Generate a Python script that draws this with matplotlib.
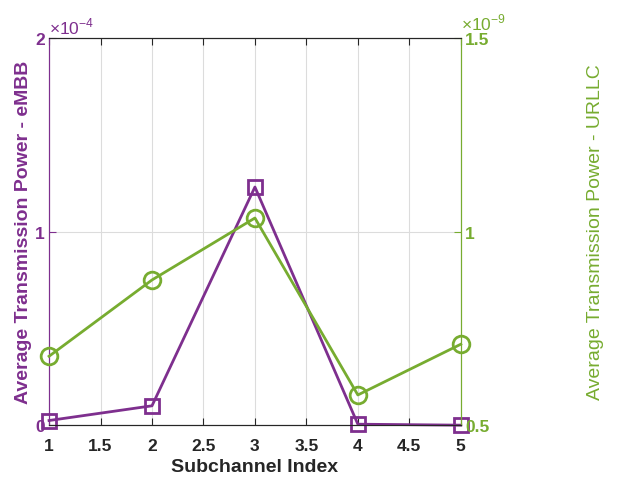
import matplotlib
matplotlib.use('Agg')
import matplotlib.pyplot as plt
from matplotlib.ticker import FuncFormatter

plt.rcParams['font.family'] = ['Liberation Sans', 'DejaVu Sans']
plt.rcParams['mathtext.fontset'] = 'custom'
plt.rcParams['mathtext.rm'] = 'Liberation Sans'

# data
subchannel = [1, 2, 3, 4, 5]
embb_power = [0.024e-4, 0.10e-4, 1.23e-4, 0.005e-4, 0.0]
urllc_power = [0.678e-9, 0.875e-9, 1.035e-9, 0.578e-9, 0.709e-9]

purple = '#7E2F8E'
green = '#77AC30'
dark = '#262626'

fig = plt.figure(figsize=(6.21, 4.81), dpi=100)
ax = fig.add_axes([0.079, 0.114, 0.663, 0.805])
ax2 = ax.twinx()

ax.plot(subchannel, embb_power, color=purple, lw=2, marker='s', ms=10,
        mfc='none', mec=purple, mew=2, zorder=3, clip_on=False)
ax2.plot(subchannel, urllc_power, color=green, lw=2, marker='o', ms=12,
         mfc='none', mec=green, mew=2, zorder=3, clip_on=False)

ax.set_xlim(1, 5)
ax.set_ylim(0, 2e-4)
ax2.set_ylim(0.5e-9, 1.5e-9)
ax.set_xticks([1, 1.5, 2, 2.5, 3, 3.5, 4, 4.5, 5])
ax.set_xticklabels(['1', '1.5', '2', '2.5', '3', '3.5', '4', '4.5', '5'])
ax.set_yticks([0, 1e-4, 2e-4])
ax2.set_yticks([0.5e-9, 1e-9, 1.5e-9])
ax.yaxis.set_major_formatter(FuncFormatter(lambda v, p: '%g' % round(v / 1e-4, 6)))
ax2.yaxis.set_major_formatter(FuncFormatter(lambda v, p: '%g' % round(v / 1e-9, 6)))

ax.grid(True, color='#dcdcdc', lw=0.8)
ax.set_axisbelow(True)

ax.tick_params(axis='x', colors=dark, labelsize=12.5, direction='in', length=5,
               width=0.8, top=True, pad=9)
ax.tick_params(axis='y', colors=purple, labelsize=12.5, direction='in', length=5, pad=3)
ax2.tick_params(axis='y', colors=green, labelsize=12.5, direction='in', length=5, pad=3)
for lbl in ax.get_xticklabels() + ax.get_yticklabels() + ax2.get_yticklabels():
    lbl.set_fontweight('bold')

ax.text(0.0, 1.005, r'$\times10^{-4}$', transform=ax.transAxes, color=purple,
        fontsize=12.5, ha='left', va='bottom')
ax2.text(1.0, 1.015, r'$\times10^{-9}$', transform=ax2.transAxes, color=green,
         fontsize=12.5, ha='left', va='bottom')

for a in (ax, ax2):
    a.spines['top'].set_color(dark)
    a.spines['bottom'].set_color(dark)
    a.spines['left'].set_color(purple)
    a.spines['right'].set_color(green)

ax.set_xlabel('Subchannel Index', fontsize=14, fontweight='bold', color=dark,
              labelpad=4)
ax.set_ylabel('Average Transmission Power - eMBB', fontsize=14,
              fontweight='bold', color=purple, labelpad=2)
ax2.set_ylabel('Average Transmission Power - URLLC', fontsize=14, color=green,
               labelpad=70)

fig.savefig('out.png', dpi=100)
